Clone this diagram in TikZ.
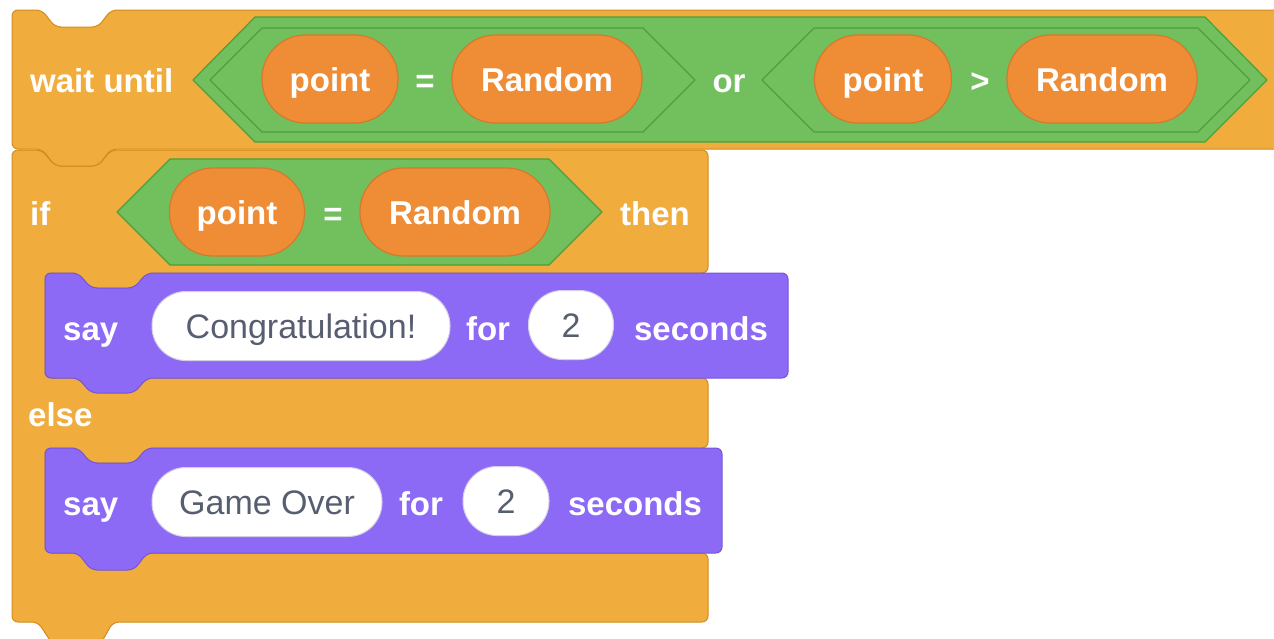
\documentclass[tikz,border=0pt]{standalone}
\usepackage{fontspec}
\setmainfont{Liberation Sans}
\usepackage{tikz}
\usetikzlibrary{positioning}
\usepackage{xcolor}
\definecolor{CtrlOrange}{HTML}{F1AC3E}
\definecolor{CtrlEdge}{HTML}{D08C1C}
\definecolor{LooksPurple}{HTML}{8D6AF6}
\definecolor{LooksEdge}{HTML}{7455D8}
\definecolor{OpGreen}{HTML}{72BF5E}
\definecolor{OpEdge}{HTML}{4E9E3D}
\definecolor{VarOrange}{HTML}{EF8D37}
\definecolor{VarEdge}{HTML}{D8782A}
\definecolor{ArgEdge}{HTML}{D4CFE6}
\definecolor{ArgText}{HTML}{575E70}

\begin{document}
\begin{tikzpicture}[x=1pt, y=-1pt,
  lbl/.style={text=white, font=\fontsize{33}{36}\selectfont\bfseries,
              text height=31pt, text depth=7pt, inner sep=0pt},
  varpill/.style={lbl, fill=VarOrange, draw=VarEdge, line width=1.2pt,
                  rounded corners=43.5pt, minimum height=88pt},
  argpill/.style={lbl, text=ArgText, font=\fontsize{34}{36}\selectfont,
                  fill=white, draw=ArgEdge, line width=1pt,
                  rounded corners=34pt, minimum height=69pt},
  ctrl/.style={fill=CtrlOrange, draw=CtrlEdge, line width=1pt, rounded corners=6pt},
  looks/.style={fill=LooksPurple, draw=LooksEdge, line width=1pt, rounded corners=6pt},
  boolhex/.style={fill=OpGreen, draw=OpEdge, line width=1.2pt, line join=round}
]
  \useasboundingbox (0,0) rectangle (1274,638);
  \clip (0,0) rectangle (1274,638);

  % if-else C block
  \draw[ctrl] (12,150) -- (42,150) -- (55,166) -- (98,166) -- (111,150)
    -- (708,150) -- (708,273) -- (147,273) -- (134,288) -- (91,288) -- (78,273)
    -- (45,273) -- (45,378) -- (708,378) -- (708,448) -- (147,448) -- (134,463)
    -- (91,463) -- (78,448) -- (45,448) -- (45,553) -- (708,553) -- (708,622)
    -- (113,622) -- (100,645) -- (53,645) -- (38,622) -- (12,622) -- cycle;

  % wait until block, running off to the right
  \draw[ctrl] (12,10) -- (42,10) -- (55,27) -- (98,27) -- (111,10)
    -- (1300,10) -- (1300,149) -- (111,149) -- (98,166) -- (55,166) -- (42,149)
    -- (12,149) -- cycle;

  % say blocks
  \draw[looks] (45,273) -- (78,273) -- (91,288) -- (134,288) -- (147,273)
    -- (788,273) -- (788,378) -- (147,378) -- (134,393) -- (91,393) -- (78,378)
    -- (45,378) -- cycle;
  \draw[looks] (45,448) -- (78,448) -- (91,463) -- (134,463) -- (147,448)
    -- (722,448) -- (722,553) -- (147,553) -- (134,570) -- (91,570) -- (78,553)
    -- (45,553) -- cycle;

  % boolean hexagons
  \draw[boolhex] (193,80) -- (255,17) -- (1205,17) -- (1267,80) -- (1205,142)
    -- (255,142) -- cycle;
  \foreach \xa/\xb in {210/695, 762/1250}{
    \draw[boolhex] (\xa,80) -- (\xa+52,28) -- (\xb-52,28) -- (\xb,80)
      -- (\xb-52,132) -- (\xa+52,132) -- cycle;
  }
  \draw[boolhex] (117,212) -- (170,159) -- (549,159) -- (602,212) -- (549,265)
    -- (170,265) -- cycle;

  % wait until row
  \node[lbl, anchor=west] (waitlbl) at (30,80) {wait until};
  \node[varpill, minimum width=136pt] (pointa) at (330,79) {point};
  \node[lbl] (eqa) at (425,80) {=};
  \node[varpill, minimum width=190pt] (randoma) at (547,79) {Random};
  \node[lbl] (orlbl) at (729,80) {or};
  \node[varpill, minimum width=137pt] (pointb) at (883,79) {point};
  \node[lbl] (gtlbl) at (980,80) {>};
  \node[varpill, minimum width=190pt] (randomb) at (1102,79) {Random};

  % if row
  \node[lbl, anchor=west] (iflbl) at (30,213) {if};
  \node[varpill, minimum width=135pt] (pointc) at (237,212) {point};
  \node[lbl] (eqb) at (333,213) {=};
  \node[varpill, minimum width=190pt] (randomc) at (455,212) {Random};
  \node[lbl] (thenlbl) at (655,213) {then};

  % first say
  \node[lbl, anchor=west] (saya) at (63,328) {say};
  \node[argpill, minimum width=298pt] (msga) at (301,326) {Congratulation!};
  \node[lbl] (fora) at (488,328) {for};
  \node[argpill, minimum width=85pt] (secsa) at (571,325) {2};
  \node[lbl] (secondsa) at (701,328) {seconds};

  \node[lbl, anchor=west] (elselbl) at (28,414) {else};

  % second say
  \node[lbl, anchor=west] (sayb) at (63,503) {say};
  \node[argpill, minimum width=230pt] (msgb) at (267,502) {Game Over};
  \node[lbl] (forb) at (421,503) {for};
  \node[argpill, minimum width=86pt] (secsb) at (506,501) {2};
  \node[lbl] (secondsb) at (635,503) {seconds};
\end{tikzpicture}
\end{document}
